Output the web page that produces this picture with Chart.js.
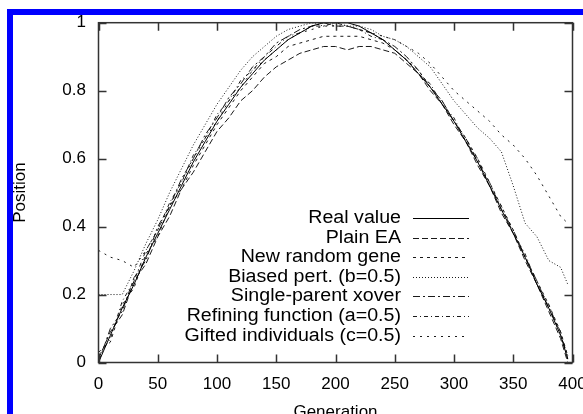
<!DOCTYPE html>
<html>
<head>
<meta charset="utf-8">
<script src="https://cdn.jsdelivr.net/npm/chart.js@4.4.0/dist/chart.umd.min.js"></script>
<style>
  html, body { margin: 0; padding: 0; background: #fff; overflow: hidden; }
  #wrap { position: relative; width: 583px; height: 414px; overflow: hidden; }
  #chart { position: absolute; left: 0; top: 0; }
  #frame { position: absolute; left: 7px; top: 9px; width: 600px; height: 420px;
           border-top: 6px solid #0000ff; border-left: 6px solid #0000ff; pointer-events: none; }
</style>
</head>
<body>
<div id="wrap">
  <canvas id="chart" width="600" height="424"></canvas>
  <div id="frame"></div>
</div>
<script>
// generations sampled along the x axis
const gens = [0,10,20,30,40,50,60,70,80,90,100,110,120,130,140,150,160,170,180,190,
              200,210,220,230,240,250,260,270,280,290,300,310,320,330,340,350,360,370,380,390,396];

const realValue = [0.00,0.08,0.16,0.23,0.31,0.38,0.45,0.52,0.59,0.65,0.71,0.76,0.81,0.85,0.89,0.92,0.95,0.97,0.99,1.00,
                   1.00,1.00,0.99,0.97,0.95,0.92,0.89,0.85,0.81,0.76,0.71,0.65,0.59,0.52,0.45,0.38,0.31,0.23,0.16,0.08,0.01];
const plainEA = [0.01,0.09,0.14,0.24,0.29,0.37,0.43,0.51,0.56,0.62,0.68,0.72,0.77,0.80,0.84,0.87,0.89,0.91,0.92,0.93,
                 0.93,0.92,0.93,0.93,0.92,0.91,0.88,0.85,0.80,0.76,0.70,0.65,0.58,0.52,0.44,0.38,0.30,0.23,0.15,0.07,0.00];
const newRandomGene = [0.03,0.06,0.17,0.22,0.32,0.37,0.46,0.51,0.58,0.64,0.70,0.75,0.80,0.84,0.88,0.90,0.93,0.94,0.95,0.96,
                       0.96,0.96,0.96,0.95,0.94,0.92,0.89,0.86,0.81,0.77,0.71,0.66,0.60,0.53,0.46,0.39,0.31,0.24,0.17,0.09,0.02];
const biasedPert = [0.20,0.20,0.20,0.27,0.35,0.42,0.50,0.57,0.64,0.70,0.76,0.81,0.86,0.90,0.93,0.96,0.98,0.99,1.00,0.99,
                    1.00,0.99,0.99,0.98,0.96,0.95,0.93,0.90,0.87,0.82,0.77,0.73,0.69,0.66,0.62,0.52,0.41,0.37,0.30,0.28,0.23];
const singleParent = [0.00,0.10,0.15,0.25,0.30,0.40,0.46,0.54,0.60,0.67,0.72,0.78,0.82,0.87,0.90,0.94,0.96,0.98,0.99,1.00,
                      0.99,0.99,0.98,0.97,0.95,0.93,0.90,0.86,0.81,0.77,0.71,0.66,0.59,0.53,0.45,0.39,0.31,0.24,0.16,0.09,0.01];
const refining = [0.02,0.07,0.18,0.24,0.33,0.39,0.47,0.53,0.61,0.66,0.73,0.77,0.83,0.86,0.90,0.93,0.96,0.97,0.99,0.99,
                  1.00,0.99,0.98,0.96,0.95,0.92,0.89,0.85,0.82,0.76,0.72,0.65,0.60,0.52,0.46,0.38,0.32,0.23,0.17,0.08,0.02];
const gifted = [0.33,0.31,0.30,0.28,0.33,0.39,0.46,0.53,0.60,0.66,0.71,0.77,0.81,0.86,0.89,0.92,0.95,0.97,0.98,0.99,
                0.99,0.99,0.98,0.97,0.96,0.95,0.93,0.91,0.88,0.84,0.80,0.77,0.74,0.71,0.67,0.64,0.60,0.55,0.49,0.43,0.41];

const labels = ['Real value', 'Plain EA', 'New random gene', 'Biased pert. (b=0.5)',
                'Single-parent xover', 'Refining function (a=0.5)', 'Gifted individuals (c=0.5)'];
const series = [realValue, plainEA, newRandomGene, biasedPert, singleParent, refining, gifted];
const dashes = [[], [6,3], [3,4], [1,2], [7,3,2,3], [4,3,1,3], [2,5]];

const xTicks = { min: 0, max: 400, step: 50 };
const yTicks = { min: 0, max: 1, step: 0.2 };

const FONT = 'Liberation Sans, Arial, Helvetica, sans-serif';

const toPoints = vals => vals.map((v, i) => ({ x: gens[i], y: v }));

// gnuplot style box: border, inward ticks on all sides, legend inside the plot
const gnuplotBox = {
  id: 'gnuplotBox',
  afterDatasetsDraw(chart) {
    const { ctx, chartArea: a, scales: { x, y } } = chart;
    const tl = 8;
    ctx.save();
    ctx.strokeStyle = '#333';
    ctx.lineWidth = 1.5;
    ctx.setLineDash([]);
    ctx.strokeRect(a.left, a.top, a.right - a.left, a.bottom - a.top);
    ctx.beginPath();
    x.ticks.forEach(t => {
      const px = Math.round(x.getPixelForValue(t.value)) + 0.5;
      ctx.moveTo(px, a.bottom); ctx.lineTo(px, a.bottom - tl);
      ctx.moveTo(px, a.top); ctx.lineTo(px, a.top + tl);
    });
    y.ticks.forEach(t => {
      const py = Math.round(y.getPixelForValue(t.value)) + 0.5;
      ctx.moveTo(a.left, py); ctx.lineTo(a.left + tl, py);
      ctx.moveTo(a.right, py); ctx.lineTo(a.right - tl, py);
    });
    ctx.stroke();

    // legend (text is a bit wider than the tick font in the original)
    const textRight = 401, lineStart = 413, lineEnd = 469, rowTop = 218, rowGap = 19.6, stretch = 1.09;
    ctx.font = '18px ' + FONT;
    ctx.textAlign = 'right';
    ctx.textBaseline = 'middle';
    ctx.fillStyle = '#000';
    ctx.lineWidth = 1;
    chart.data.datasets.forEach((ds, i) => {
      const ly = Math.round(rowTop + i * rowGap) + 0.5;
      ctx.save();
      ctx.translate(textRight, ly);
      ctx.scale(stretch, 1);
      ctx.fillText(ds.label, 0, 0);
      ctx.restore();
      ctx.strokeStyle = ds.borderColor;
      ctx.setLineDash(ds.borderDash);
      ctx.beginPath();
      ctx.moveTo(lineStart, ly);
      ctx.lineTo(lineEnd, ly);
      ctx.stroke();
    });
    ctx.restore();
  }
};

new Chart(document.getElementById('chart'), {
  type: 'line',
  data: {
    datasets: series.map((vals, i) => ({
      label: labels[i],
      data: toPoints(vals),
      borderColor: i === 0 ? '#000' : '#1a1a1a',
      borderWidth: 1,
      borderDash: dashes[i],
      pointRadius: 0,
      tension: 0,
      fill: false
    }))
  },
  options: {
    responsive: false,
    devicePixelRatio: 1,
    animation: false,
    layout: { padding: { top: 19, right: 27.5, left: 0, bottom: 0 } },
    plugins: { legend: { display: false }, tooltip: { enabled: false } },
    scales: {
      x: {
        type: 'linear',
        min: xTicks.min, max: xTicks.max,
        grid: { display: false, drawTicks: false },
        border: { display: false },
        ticks: { stepSize: xTicks.step, color: '#000', padding: 12, font: { family: FONT, size: 17 } },
        title: { display: true, text: 'Generation', color: '#000', padding: { top: 0, bottom: 1 },
                 font: { family: FONT, size: 17 } },
        afterFit: s => { s.height = 61.5; }
      },
      y: {
        min: yTicks.min, max: yTicks.max,
        grid: { display: false, drawTicks: false },
        border: { display: false },
        ticks: { stepSize: yTicks.step, color: '#000', padding: 12.5, font: { family: FONT, size: 17 },
                 callback: v => String(Math.round(v * 10) / 10) },
        title: { display: true, text: 'Position', color: '#000', padding: { top: 10, bottom: 0 },
                 font: { family: FONT, size: 17 } },
        afterFit: s => { s.width = 98.5; }
      }
    }
  },
  plugins: [gnuplotBox]
});
</script>
</body>
</html>
